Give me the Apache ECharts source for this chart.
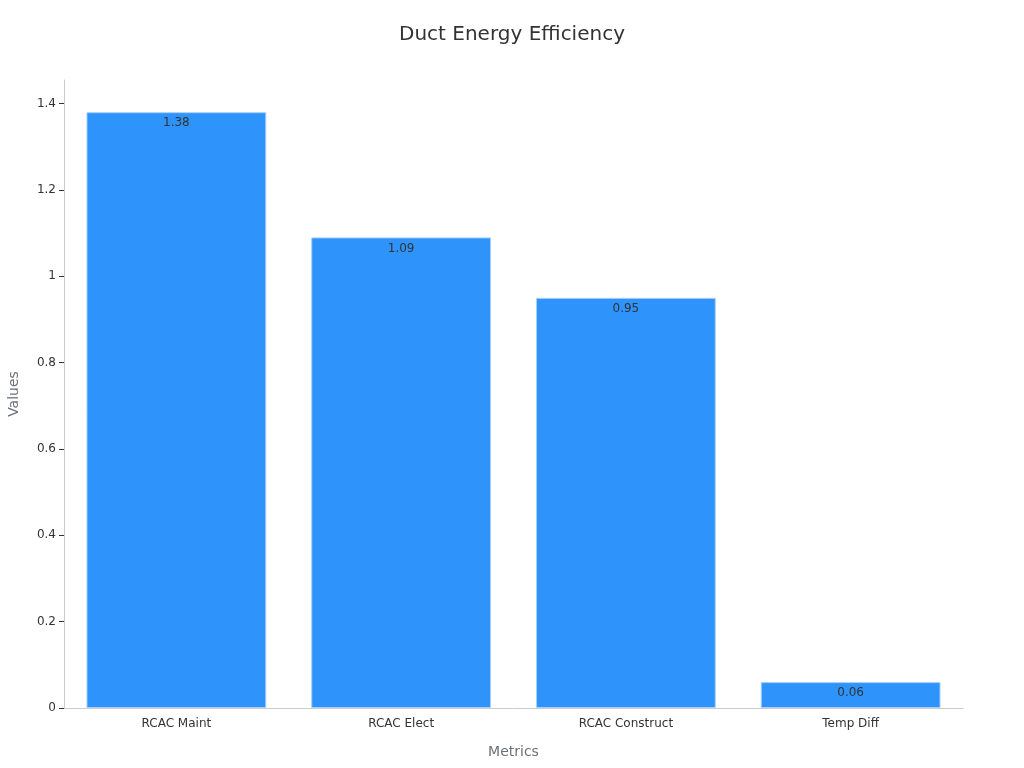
<!DOCTYPE html>
<html>
<head>
<meta charset="utf-8">
<script src="https://cdn.jsdelivr.net/npm/echarts@6/dist/echarts.min.js"></script>
<style>html,body{margin:0;padding:0;background:#fff}#c{width:1024px;height:768px}</style>
</head>
<body>
<div id="c"></div>
<script>
const categories = ['RCAC Maint', 'RCAC Elect', 'RCAC Construct', 'Temp Diff'];
const values = [1.38, 1.09, 0.95, 0.06];
const yTicks = [0, 0.2, 0.4, 0.6, 0.8, 1, 1.2, 1.4];

const chart = echarts.init(document.getElementById('c'));
chart.setOption({
  backgroundColor: '#ffffff',
  textStyle: { fontFamily: 'DejaVu Sans' },
  title: {
    text: 'Duct Energy Efficiency',
    left: 'center',
    top: 20,
    textStyle: { fontSize: 20, fontWeight: 'normal', color: '#333', fontFamily: 'DejaVu Sans' }
  },
  grid: { left: 64, right: 61, top: 80, bottom: 60, containLabel: false, outerBoundsMode: 'none' },
  xAxis: {
    type: 'category',
    data: categories,
    name: 'Metrics',
    nameLocation: 'middle',
    nameGap: 37,
    nameMoveOverlap: false,
    nameTextStyle: { color: '#6E7079', fontSize: 14 },
    axisLine: { lineStyle: { color: '#ccc' } },
    axisTick: { alignWithLabel: true, lineStyle: { color: '#333' } },
    axisLabel: { color: '#333', fontSize: 12, margin: 10 }
  },
  yAxis: {
    type: 'value',
    min: 0,
    max: function (v) { return v.max * 1.054; },
    name: 'Values',
    nameLocation: 'middle',
    nameGap: 43,
    nameMoveOverlap: false,
    nameTextStyle: { color: '#6E7079', fontSize: 14 },
    splitLine: { show: false },
    axisLine: { show: true, lineStyle: { color: '#ccc' } },
    axisTick: { show: true, customValues: yTicks, lineStyle: { color: '#333' } },
    axisLabel: { color: '#333', fontSize: 12, customValues: yTicks }
  },
  series: [{
    type: 'bar',
    data: values,
    barCategoryGap: '20%',
    itemStyle: { color: '#2E93FA', borderColor: '#a8d0fa', borderWidth: 1 },
    label: { show: true, position: 'insideTop', color: '#333', fontSize: 12 }
  }]
});
</script>
</body>
</html>
